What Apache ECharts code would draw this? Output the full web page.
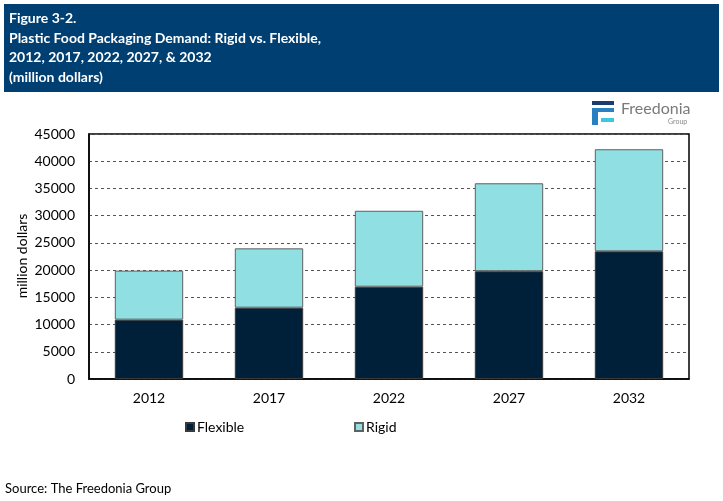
<!DOCTYPE html>
<html><head><meta charset="utf-8">
<script src="https://cdn.jsdelivr.net/npm/echarts@6/dist/echarts.min.js"></script>
<style>html,body{margin:0;padding:0;background:#fff}#c{width:723px;height:501px}</style>
</head><body><div id="c"></div>
<script>
var categories = ['2012', '2017', '2022', '2027', '2032'];
var flexible = [10900, 13100, 16950, 19800, 23450];
var rigid = [9000, 10900, 13950, 16150, 18750];
var yTicks = [0, 5000, 10000, 15000, 20000, 25000, 30000, 35000, 40000, 45000];
var yAxisTitle = 'million dollars';
var titleLines = ['Figure 3-2.', 'Plastic Food Packaging Demand: Rigid vs. Flexible,', '2012, 2017, 2022, 2027, & 2032', '(million dollars)'];

var FONT = 'Lato, "Open Sans", sans-serif';
var chart = echarts.init(document.getElementById('c'), null, {renderer: 'canvas'});
var graphics = [
  {type: 'rect', shape: {x: 4, y: 4, width: 715, height: 88}, style: {fill: '#003F72'}, z: 0},
  {type: 'text', left: 9, top: 9, style: {text: titleLines.join('\n'), fill: '#fff', font: 'bold 14px ' + FONT, lineHeight: 19.5}},
  // Freedonia logo
  {type: 'rect', shape: {x: 592, y: 101, width: 22, height: 4}, style: {fill: '#1B3D6D'}},
  {type: 'rect', shape: {x: 592, y: 108, width: 6, height: 17}, style: {fill: '#2A7FC0'}},
  {type: 'rect', shape: {x: 592, y: 108, width: 22, height: 4}, style: {fill: '#2A7FC0'}},
  {type: 'rect', shape: {x: 601, y: 118, width: 13, height: 4}, style: {fill: '#3FC6E0'}},
  {type: 'text', left: 621, top: 101, style: {text: 'Freedonia', fill: '#7A7A7A', font: '16px ' + FONT}},
  {type: 'text', left: 668, top: 118, style: {text: 'Group', fill: '#8A8A8A', font: '7px ' + FONT}},
  {type: 'text', x: 22, y: 256, rotation: Math.PI / 2, style: {text: yAxisTitle, fill: '#000', font: '14px ' + FONT, align: 'center', verticalAlign: 'middle'}},
  {type: 'text', left: 5, top: 482, style: {text: 'Source: The Freedonia Group', fill: '#000', font: '13px ' + FONT}}
];

chart.setOption({
  animation: false,
  textStyle: {fontFamily: FONT},
  grid: {left: 89, right: 34, top: 134, bottom: 122, show: true, borderColor: '#000', borderWidth: 1.5, containLabel: false},
  legend: [
    {data: ['Flexible'], icon: 'rect', left: 180, top: 415, itemWidth: 8, itemHeight: 8, textStyle: {fontSize: 14, color: '#000', fontFamily: FONT, padding: [0, 0, 0, -2]}},
    {data: ['Rigid'], icon: 'rect', left: 349, top: 415, itemWidth: 8, itemHeight: 8, textStyle: {fontSize: 14, color: '#000', fontFamily: FONT, padding: [0, 0, 0, -2]}}
  ],
  xAxis: {
    type: 'category', data: categories,
    axisLine: {show: true, lineStyle: {color: '#000', width: 1.5}},
    axisTick: {show: false},
    axisLabel: {color: '#000', fontSize: 14, margin: 12, fontFamily: FONT}
  },
  yAxis: {
    type: 'value', min: yTicks[0], max: yTicks[yTicks.length - 1], interval: 5000,
    axisLine: {show: true, lineStyle: {color: '#000', width: 1.5}},
    axisTick: {show: false},
    axisLabel: {color: '#000', fontSize: 14, margin: 14, fontFamily: FONT, formatter: function (v) { return String(v); }},
    splitLine: {show: true, lineStyle: {color: '#555', type: [3, 3], width: 1}}
  },
  series: [
    {name: 'Flexible', type: 'bar', stack: 'a', data: flexible, barCategoryGap: '43%',
     itemStyle: {color: '#00203A', borderColor: '#3a3a3a', borderWidth: 1}},
    {name: 'Rigid', type: 'bar', stack: 'a', data: rigid, barCategoryGap: '43%',
     itemStyle: {color: '#8FDFE3', borderColor: '#606060', borderWidth: 1}}
  ],
  graphic: graphics
});
</script></body></html>
